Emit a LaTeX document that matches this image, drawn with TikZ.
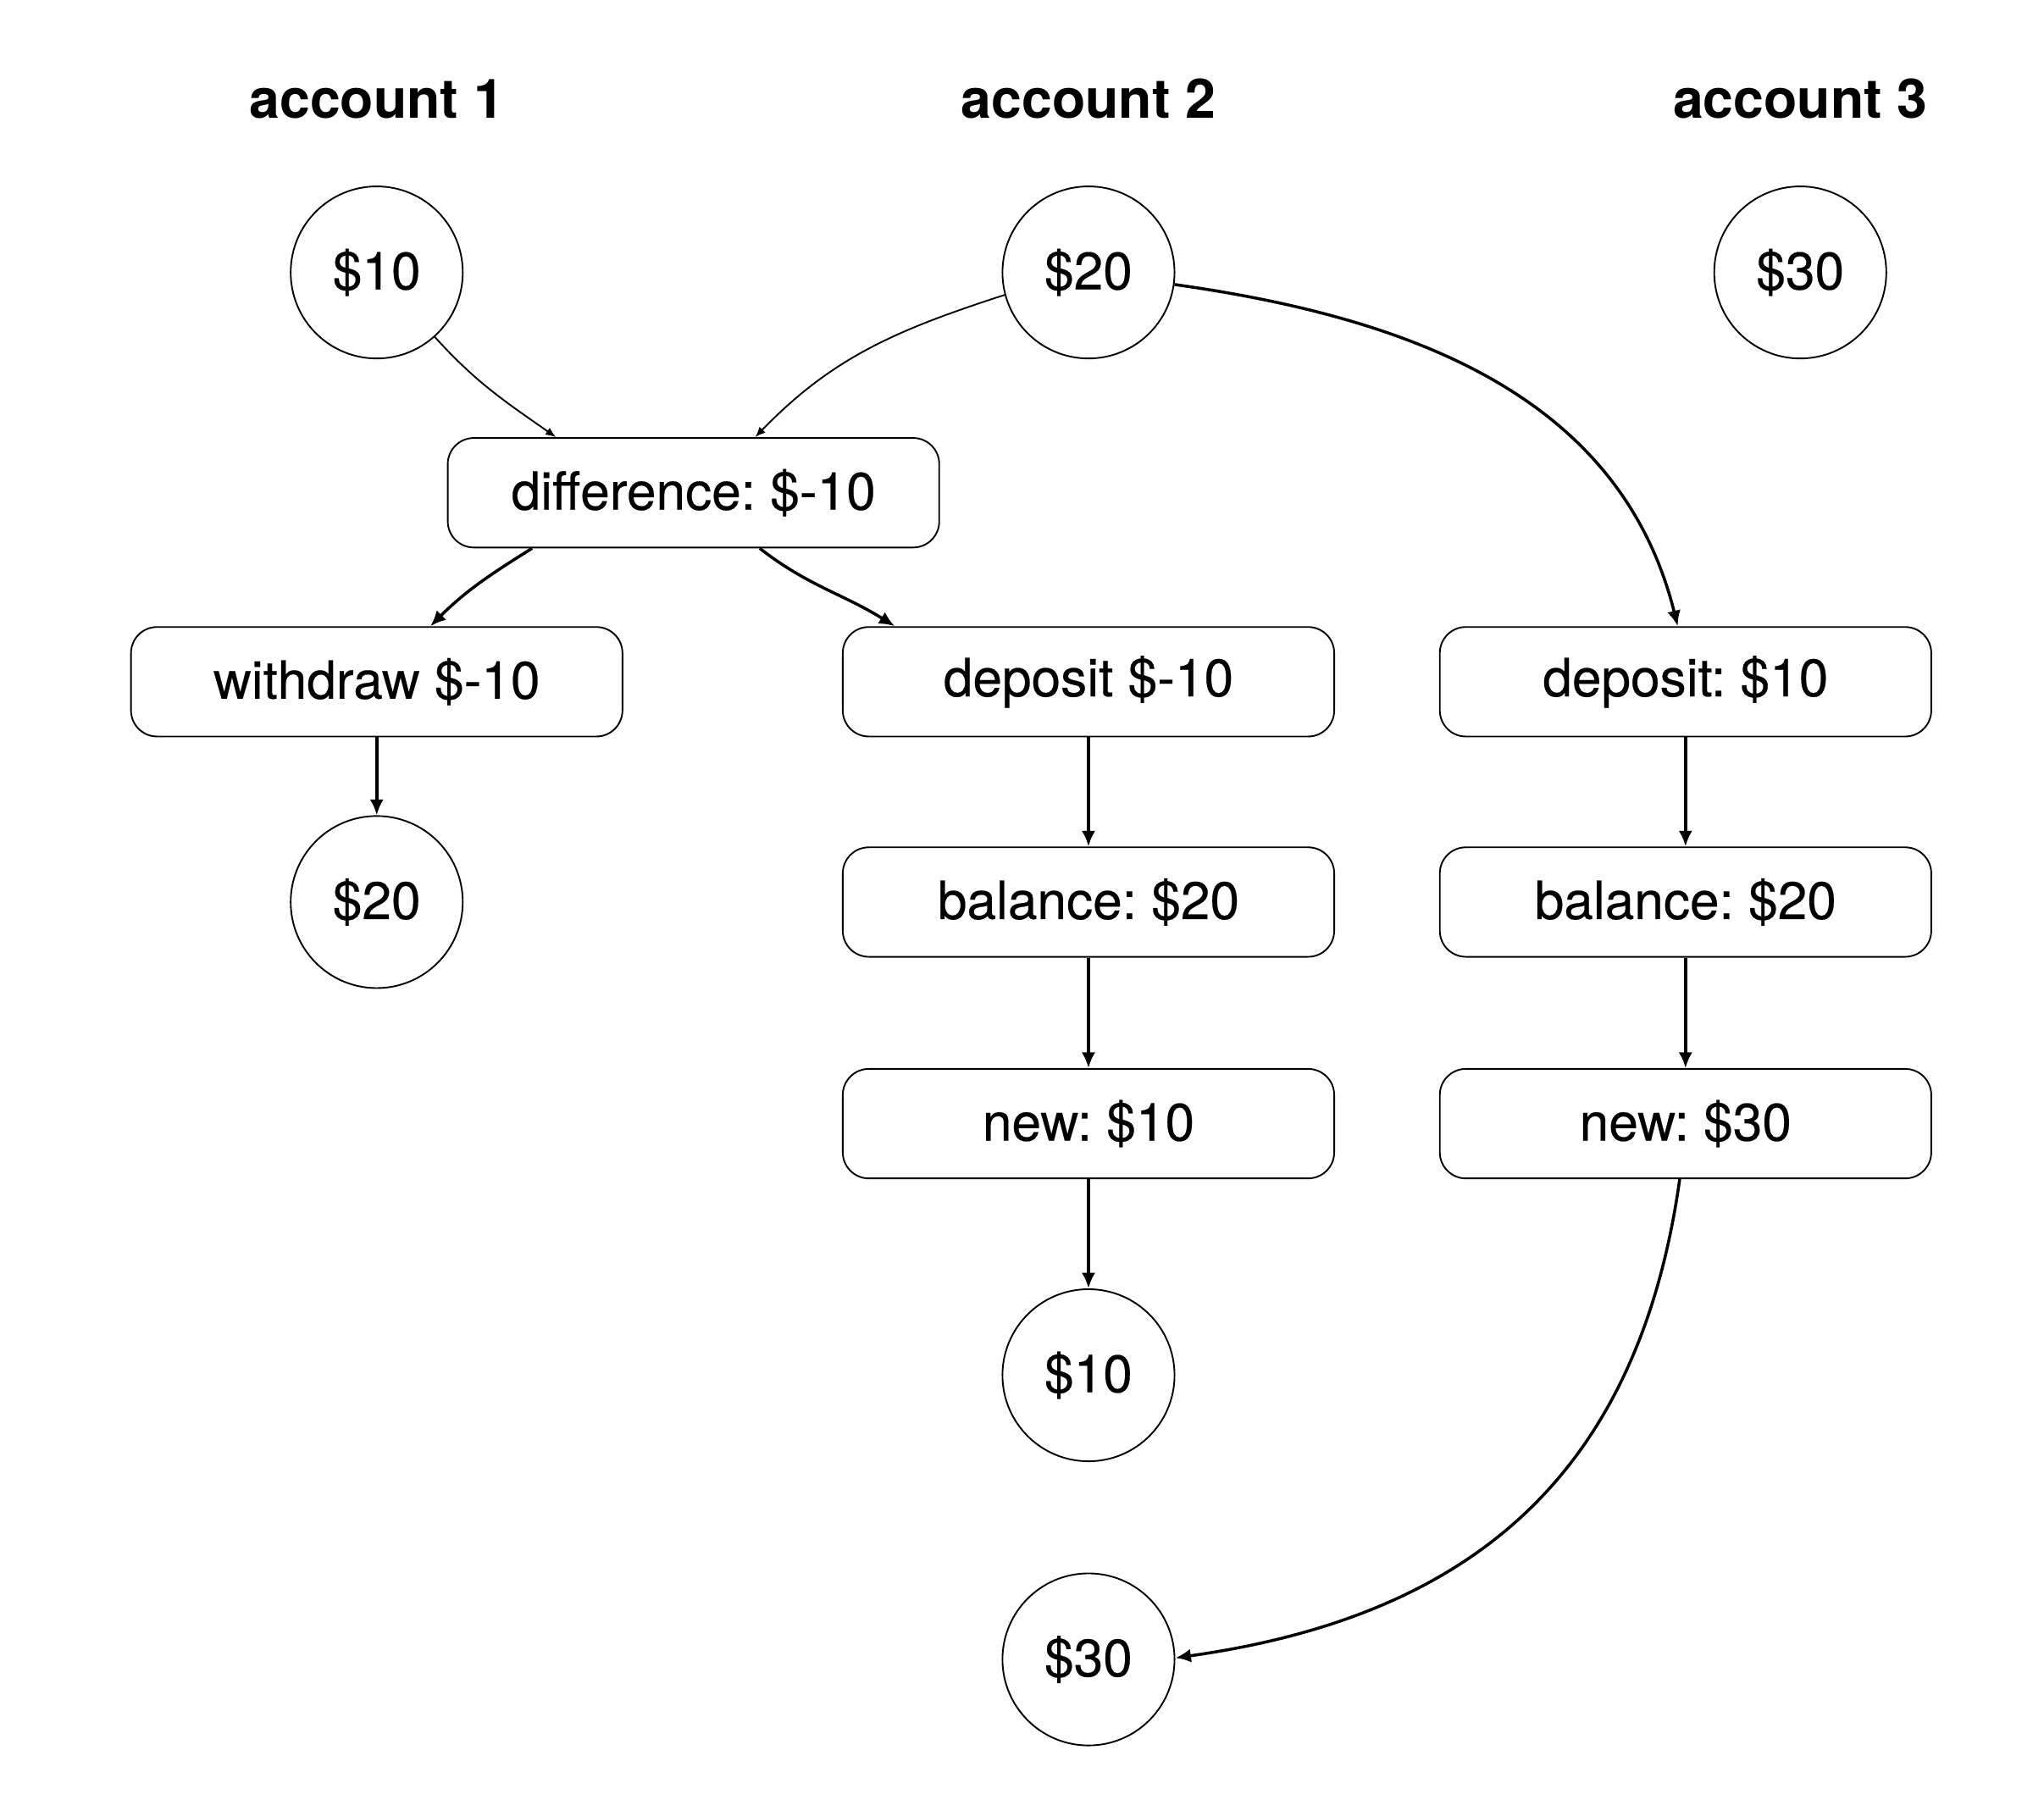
\documentclass[tikz,border=0pt]{standalone}
\usepackage{fontspec}
\setmainfont{TeX Gyre Heros}
\newfontfamily\labelfont[FakeBold=0.35]{TeX Gyre Heros}
\usetikzlibrary{positioning,arrows.meta}
\frenchspacing

\begin{document}
\begin{tikzpicture}[
        on grid,
        font=\fontsize{11.5}{14}\selectfont\labelfont,
        title/.style={font=\fontsize{11.9}{14}\selectfont\rmfamily\bfseries},
        balance/.style={draw, circle, line width=0.35pt, minimum size=13.2mm, inner sep=0pt},
        stepbox/.style={draw, rounded corners=2mm, line width=0.35pt, minimum width=37.7mm, minimum height=8.4mm},
        flow/.style={line width=0.65pt, -{Latex[length=1.2mm,width=1.05mm]}},
        thin flow/.style={line width=0.35pt, -{Latex[length=0.8mm,width=0.65mm]}},
    ]
    \useasboundingbox (-28.9mm,7.6mm) rectangle (127.9mm,-131.3mm);

    \node [title] (acc1) {account 1};
    \node [title, right=54.6mm of acc1] (acc2) {account 2};
    \node [title, right=54.6mm of acc2] (acc3) {account 3};

    \node [balance, below=13.3mm of acc1] (start1) {\$10};
    \node [balance, below=13.3mm of acc2] (start2) {\$20};
    \node [balance, below=13.3mm of acc3] (start3) {\$30};

    \node [stepbox, below right=16.9mm and 24.3mm of start1] (diff) {difference: \$-10};
    \node [stepbox, below=31.4mm of start1] (withdraw) {withdraw \$-10};
    \node [stepbox, below=31.4mm of start2] (dep1) {deposit \$-10};
    \node [stepbox, below left=31.4mm and 8.8mm of start3] (dep2) {deposit: \$10};

    \node [balance, below=16.9mm of withdraw] (end1) {\$20};
    \node [stepbox, below=16.9mm of dep1] (bal1) {balance: \$20};
    \node [stepbox, below=16.9mm of dep2] (bal2) {balance: \$20};
    \node [stepbox, below=17mm of bal1] (new1) {new: \$10};
    \node [stepbox, below=17mm of bal2] (new2) {new: \$30};
    \node [balance, below=19.3mm of new1] (end2) {\$10};
    \node [balance, below=21.8mm of end2] (end3) {\$30};

    % reading the two balances
    \draw [thin flow] (start1.-48) to [out=-48, in=145] (diff.158);
    \draw [thin flow] (start2.195) to [out=198, in=46] (diff.42);

    % transfer out of account 1 into account 2
    \draw [flow] (diff.199) to [out=212, in=45] (withdraw.46);
    \draw [flow] (diff.320) to [out=-38, in=148] (dep1.164);
    \draw [flow] (withdraw) -- (end1);
    \draw [flow] (dep1) -- (bal1);
    \draw [flow] (bal1) -- (new1);
    \draw [flow] (new1) -- (end2);

    % deposit into account 3
    \draw [flow] (start2.-8) to [out=-8, in=104] (dep2.98);
    \draw [flow] (dep2) -- (bal2);
    \draw [flow] (bal2) -- (new2);
    \draw [flow] (new2.-96) to [out=-98, in=8, looseness=1.1] (end3.1);
\end{tikzpicture}
\end{document}
